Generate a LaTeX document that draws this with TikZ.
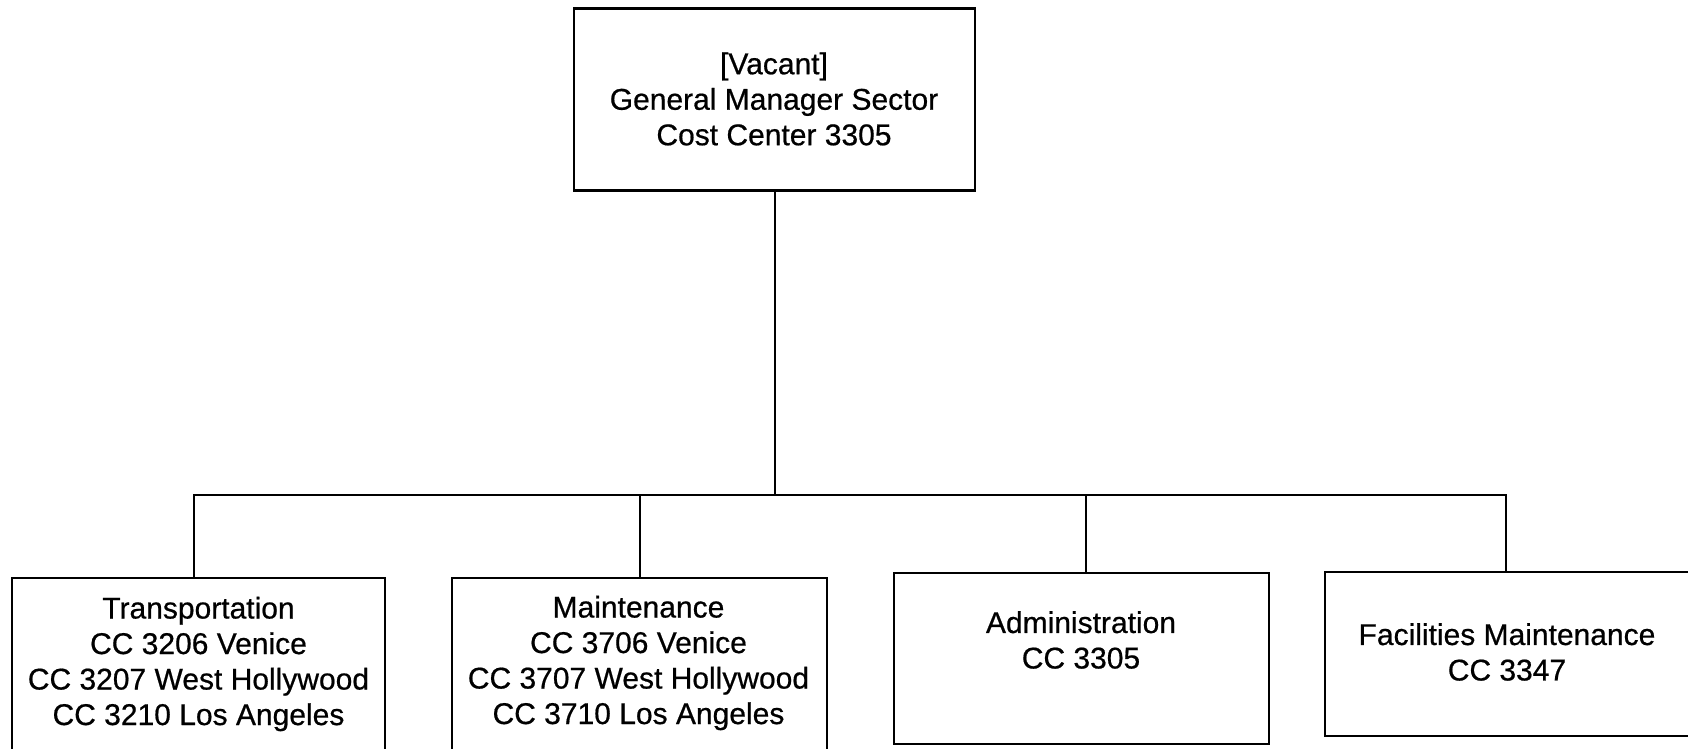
\documentclass[tikz,border=0pt]{standalone}
\usepackage{fontspec}
\setmainfont{Liberation Sans}
\newfontfamily\orgfont{Liberation Sans}[FakeBold=0.6]
\begin{document}
\begin{tikzpicture}[x=1pt,y=-1pt,
  orgbox/.style={draw=black, line width=2.6pt, inner sep=0pt},
  orglabel/.style={align=center, inner sep=0pt, font=\orgfont\fontsize{30}{35.5}\selectfont},
  conn/.style={draw=black, line width=2.8pt}]
\useasboundingbox (0,0) rectangle (1688,749);
% boxes
\node[orgbox, minimum width=401pt, minimum height=182pt] (top) at (774.5,99.5) {};
\node[orgbox, minimum width=373pt, minimum height=200pt] (b1) at (198.5,678) {};
\node[orgbox, minimum width=375pt, minimum height=200pt] (b2) at (639.5,678) {};
\node[orgbox, minimum width=375pt, minimum height=171pt] (b3) at (1081.5,658.5) {};
\node[orgbox, minimum width=365pt, minimum height=164pt] (b4) at (1507.5,654) {};
% labels
\node[orglabel] (ttop) at (774,99) {[Vacant]\\General Manager Sector\\Cost Center 3305};
\node[orglabel] (t1) at (198.5,664) {Transportation\\CC 3206 Venice\\CC 3207 West Hollywood\\CC 3210 Los Angeles};
\node[orglabel] (t2) at (638.5,663) {Maintenance\\CC 3706 Venice\\CC 3707 West Hollywood\\CC 3710 Los Angeles};
\node[orglabel] (t3) at (1081,640) {Administration\\CC 3305};
\node[orglabel] (t4) at (1507,652) {Facilities Maintenance\\CC 3347};
% connectors
\coordinate (bus) at (775,495);
\coordinate (j1) at (194,495);
\coordinate (j2) at (640,495);
\coordinate (j3) at (1086,495);
\coordinate (j4) at (1506,495);
\draw[conn] (top.south -| bus) -- (bus);
\draw[conn] (j1 |- b1.north) -- (j1) -- (j4) -- (j4 |- b4.north);
\draw[conn] (j2) -- (j2 |- b2.north);
\draw[conn] (j3) -- (j3 |- b3.north);
\end{tikzpicture}
\end{document}
